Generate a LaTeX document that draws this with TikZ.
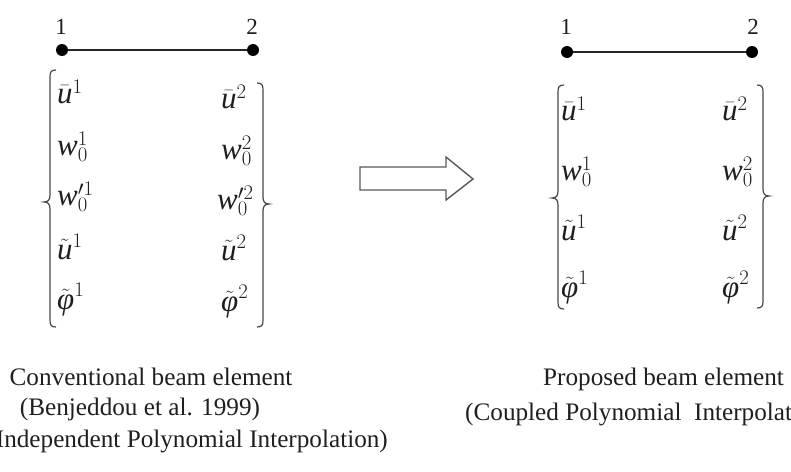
\documentclass[tikz,border=0pt]{standalone}
\usepackage{fontspec}
\setmainfont{Liberation Serif}
\begin{document}
\begin{tikzpicture}[x=1pt,y=-1pt,
  ink/.style={color=black!88},
  dot/.style={circle,fill=black,inner sep=0pt,minimum size=12pt},
  beam/.style={line width=2.6pt,black!85},
  curly/.style={line width=1.2pt,black!72},
  entry/.style={ink,inner sep=0pt,font=\fontsize{31}{34}\selectfont},
  nodelabel/.style={ink,inner sep=0pt,font=\fontsize{23}{26}\selectfont},
  caption/.style={ink,inner sep=0pt,font=\fontsize{25.2}{28}\selectfont},
  blockarrow/.style={line width=1.4pt,black!65,fill=white}]
\useasboundingbox (0,0) rectangle (791,471);
\clip (0,0) rectangle (791,471);

% opening brace: x of the stem, top, cusp, bottom
\newcommand{\openbrace}[4]{%
  \draw[curly] ({#1+6},#2) .. controls ({#1+1},#2) and (#1,{#2+2}) .. (#1,{#2+7})
    -- (#1,{#3-7}) .. controls (#1,{#3-2}) and ({#1-2},#3) .. ({#1-6},#3)
    .. controls ({#1-2},#3) and (#1,{#3+2}) .. (#1,{#3+7})
    -- (#1,{#4-7}) .. controls (#1,{#4-2}) and ({#1+1},#4) .. ({#1+6},#4);}
% closing brace
\newcommand{\closebrace}[4]{%
  \draw[curly] ({#1-6},#2) .. controls ({#1-1},#2) and (#1,{#2+2}) .. (#1,{#2+7})
    -- (#1,{#3-7}) .. controls (#1,{#3-2}) and ({#1+2},#3) .. ({#1+6},#3)
    .. controls ({#1+2},#3) and (#1,{#3+2}) .. (#1,{#3+7})
    -- (#1,{#4-7}) .. controls (#1,{#4-2}) and ({#1-1},#4) .. ({#1-6},#4);}

% ---------- conventional element ----------
\node[dot] (a1) at (62,50) {};
\node[dot] (a2) at (253,50) {};
\draw[beam] (a1) -- (a2);
\node[nodelabel] (la1) at (61,27) {1};
\node[nodelabel] (la2) at (252,27) {2};

\openbrace{50}{70}{202}{327}
\closebrace{263}{83}{204}{327}

\node[entry,anchor=base west] (au1) at (57,103) {$\bar{\mbox{\itshape u}}^1$};
\node[entry,anchor=base west] (aw1) at (57,155) {$\mbox{\itshape w}_0^1$};
\node[entry,anchor=base west] (ad1) at (57,205) {$\mbox{\itshape w}_0^{\prime 1}$};
\node[entry,anchor=base west] (at1) at (57,259) {$\tilde{\mbox{\itshape u}}^1$};
\node[entry,anchor=base west] (ap1) at (57,309) {$\tilde{\mbox{\itshape φ}}^1$};

\node[entry,anchor=base west] (au2) at (221,108) {$\bar{\mbox{\itshape u}}^2$};
\node[entry,anchor=base west] (aw2) at (221,159) {$\mbox{\itshape w}_0^2$};
\node[entry,anchor=base west] (ad2) at (217,209) {$\mbox{\itshape w}_0^{\prime 2}$};
\node[entry,anchor=base west] (at2) at (221,260) {$\tilde{\mbox{\itshape u}}^2$};
\node[entry,anchor=base west] (ap2) at (221,311) {$\tilde{\mbox{\itshape φ}}^2$};

\node[caption,anchor=base] (ca1) at (151,385) {Conventional beam element};
\node[caption,anchor=base] (ca2) at (140,415) {(Benjeddou et al. 1999)};
\node[caption,anchor=base east] (ca3) at (388,447) {(Independent Polynomial Interpolation)};

% ---------- transition arrow ----------
\draw[blockarrow] (360,167) -- (446,167) -- (446,157) -- (473,179)
  -- (446,200) -- (446,190) -- (360,190) -- cycle;

% ---------- proposed element ----------
\node[dot] (b1) at (567,52) {};
\node[dot] (b2) at (752,52) {};
\draw[beam] (b1) -- (b2);
\node[nodelabel] (lb1) at (566,27) {1};
\node[nodelabel] (lb2) at (753,27) {2};

\openbrace{558}{85}{198}{309}
\closebrace{763}{85}{196}{308}

\node[entry,anchor=base west] (bu1) at (561,120) {$\bar{\mbox{\itshape u}}^1$};
\node[entry,anchor=base west] (bw1) at (561,180) {$\mbox{\itshape w}_0^1$};
\node[entry,anchor=base west] (bt1) at (561,240) {$\tilde{\mbox{\itshape u}}^1$};
\node[entry,anchor=base west] (bp1) at (561,297) {$\tilde{\mbox{\itshape φ}}^1$};

\node[entry,anchor=base west] (bu2) at (722,120) {$\bar{\mbox{\itshape u}}^2$};
\node[entry,anchor=base west] (bw2) at (722,180) {$\mbox{\itshape w}_0^2$};
\node[entry,anchor=base west] (bt2) at (722,240) {$\tilde{\mbox{\itshape u}}^2$};
\node[entry,anchor=base west] (bp2) at (722,297) {$\tilde{\mbox{\itshape φ}}^2$};

\node[caption,anchor=base west] (cb1) at (543,385) {Proposed beam element};
\node[caption,anchor=base west] (cb2) at (465,420) {(Coupled Polynomial\ \ Interpolation)};
\end{tikzpicture}
\end{document}
